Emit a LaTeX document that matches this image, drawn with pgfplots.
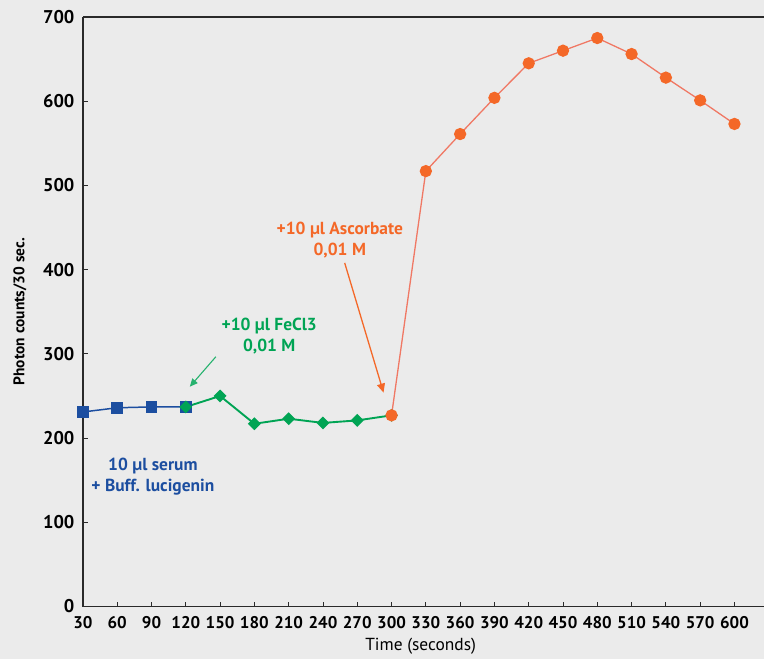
\documentclass[border=0pt]{standalone}
\usepackage{fontspec}
\setmainfont{PT Sans}
\usepackage{pgfplots}
\pgfplotsset{compat=1.18}
\usetikzlibrary{arrows.meta}
\definecolor{bg}{HTML}{EBEBEB}
\definecolor{ablue}{RGB}{28,78,160}
\definecolor{agreen}{RGB}{0,164,84}
\definecolor{aorange}{RGB}{244,104,40}
\definecolor{aline}{RGB}{240,120,100}
\definecolor{axc}{HTML}{2A2A2A}
\begin{document}
\begin{tikzpicture}
\fill[bg] (0,0) rectangle (765bp,660bp);
\begin{axis}[
  at={(83bp,53bp)}, anchor=south west,
  scale only axis, width=682bp, height=590bp,
  xmin=30, xmax=626.2, ymin=0, ymax=700,
  axis lines=left,
  xtick={30,60,...,600}, ytick={0,100,...,700},
  tick align=inside,
  major tick length=5bp,
  axis line style={axc, line width=1.2pt, -},
  tick style={axc, line width=0.9pt},
  /pgf/number format/assume math mode=true,
  x tick label style={font=\bfseries\fontsize{17}{20}\selectfont, yshift=-6bp},
  y tick label style={font=\bfseries\fontsize{18.5}{21}\selectfont, xshift=-5bp},
  xlabel={Time (seconds)},
  xlabel style={font=\fontsize{17.5}{20}\selectfont, at={(rel axis cs:0.4956,0)}, anchor=north, yshift=-28bp},
  ylabel={Photon counts/30 sec.},
  ylabel style={font=\bfseries\fontsize{15.5}{17}\selectfont, at={(rel axis cs:-0.0924,0.5)}, anchor=center, rotate=0},
  clip=false,
]
\draw[axc, line width=1.2pt] (rel axis cs:0,1) -- (rel axis cs:1,1);
\addplot[ablue, line width=1.5pt, mark=square*, mark size=5bp, mark options={solid}]
  coordinates {(30,231) (60,236) (90,237) (120,237)};
\addplot[agreen, line width=1.9pt, mark=square*, mark size=3.6bp, mark options={rotate=45}]
  coordinates {(120,237) (150,250) (180,217) (210,223) (240,218) (270,221) (300,227)};
\addplot[aline, line width=1.3pt, mark=*, mark size=5.5bp, mark options={fill=aorange, draw=aorange}]
  coordinates {(300,227) (330,517) (360,561) (390,604) (420,645) (450,660) (480,675) (510,656) (540,628) (570,601) (600,573)};
\node[text=aorange, font=\bfseries\fontsize{17.5}{21}\selectfont, align=center] at (axis cs:254.7,435) {+10 µl Ascorbate\\0,01 M};
\draw[aorange, line width=1.3pt, -{Triangle[length=9bp,width=8bp]}] (axis cs:259,408) -- (axis cs:293,254);
\node[text=agreen, font=\bfseries\fontsize{17.5}{21}\selectfont, align=center] at (axis cs:193,321) {+10 µl FeCl3\\0,01 M};
\draw[agreen!85!white, line width=1.1pt, -{Triangle[length=8bp,width=7bp]}] (axis cs:146.3,296.6) -- (axis cs:123.5,261);
\node[text=ablue, font=\bfseries\fontsize{17.5}{21}\selectfont, align=center] at (axis cs:91.2,154) {10 µl serum\\+ Buff. lucigenin};
\end{axis}
\end{tikzpicture}
\end{document}
